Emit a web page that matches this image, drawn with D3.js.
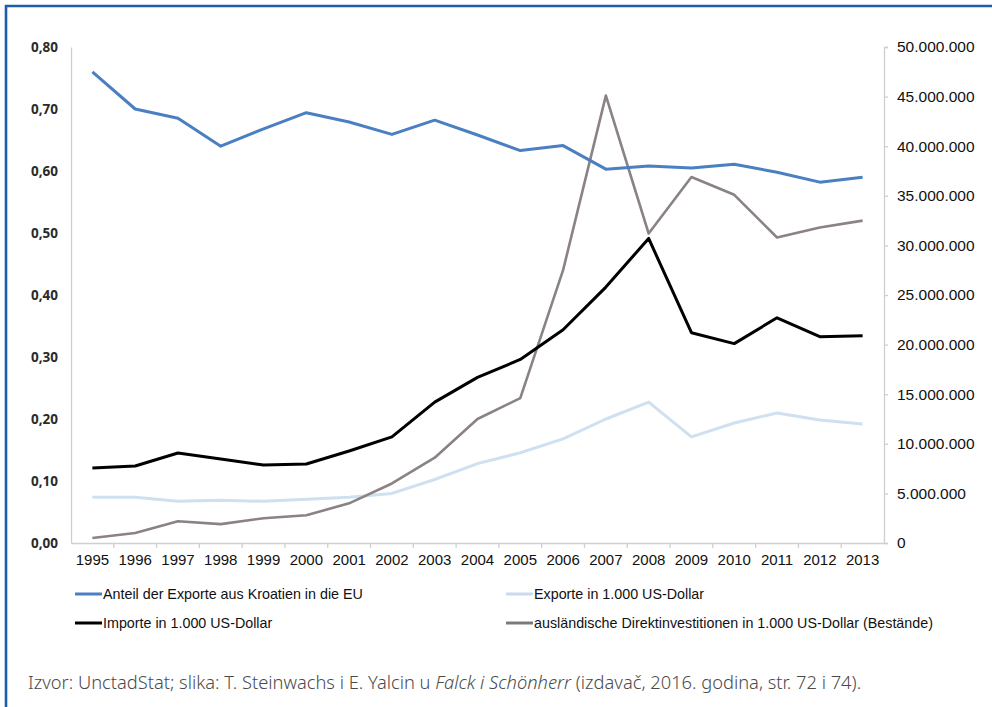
<!DOCTYPE html>
<html>
<head>
<meta charset="utf-8">
<script src="https://cdn.jsdelivr.net/npm/d3@7"></script>
<style>
  html, body { margin: 0; padding: 0; background: #fff; }
  svg { display: block; }
</style>
</head>
<body>
<svg id="chart" width="992" height="707"></svg>
<script>
const years = ["1995","1996","1997","1998","1999","2000","2001","2002","2003","2004","2005","2006","2007","2008","2009","2010","2011","2012","2013"];
const shareEU = [0.760,0.700,0.685,0.640,0.668,0.694,0.679,0.659,0.682,0.658,0.633,0.641,0.603,0.608,0.605,0.611,0.598,0.582,0.590];
const exportsUSD = [4.6,4.6,4.2,4.3,4.2,4.4,4.6,5.0,6.4,8.0,9.1,10.5,12.5,14.2,10.7,12.1,13.1,12.4,12.0];
const importsUSD = [7.56,7.76,9.07,8.47,7.86,7.96,9.27,10.7,14.2,16.7,18.5,21.5,25.8,30.7,21.2,20.1,22.7,20.8,20.9];
const fdiUSD = [0.5,1.0,2.2,1.9,2.5,2.8,4.0,6.0,8.6,12.5,14.6,27.5,45.1,31.2,36.9,35.1,30.8,31.8,32.5];
const leftTicks = [0,0.1,0.2,0.3,0.4,0.5,0.6,0.7,0.8];
const rightTicks = [0,5,10,15,20,25,30,35,40,45,50];
const legendLabels = ["Anteil der Exporte aus Kroatien in die EU","Exporte in 1.000 US-Dollar","Importe in 1.000 US-Dollar","ausländische Direktinvestitionen in 1.000 US-Dollar (Bestände)"];

(function(){
const svg = d3.select("#chart");
const mLeft = 71, mRight = 884, mTop = 47, mBottom = 543;

// frame
svg.append("path").attr("d", `M6,707 L6,6 L992,6`).attr("fill","none")
  .attr("stroke","#1b5ea9").attr("stroke-width",2.6);

const x = d3.scaleBand().domain(years).range([mLeft, mRight]);
const yL = d3.scaleLinear().domain([0,0.8]).range([mBottom, mTop]);
const yR = d3.scaleLinear().domain([0,50]).range([mBottom, mTop]);

const axisColor = "#cfcfcf";

// left axis
const gl = svg.append("g").attr("transform",`translate(${mLeft},0)`)
  .call(d3.axisLeft(yL).tickValues(leftTicks).tickSize(0).tickPadding(13)
    .tickFormat(d => d3.format(".2f")(d).replace(".", ",")));
gl.select(".domain").attr("stroke", axisColor).attr("stroke-width",1.3);
gl.selectAll("text").attr("font-family","'Open Sans', sans-serif").attr("font-weight","700")
  .attr("font-size","13.5px").attr("fill","#2a2a2a");

// right axis
const gr = svg.append("g").attr("transform",`translate(${mRight},0)`)
  .call(d3.axisRight(yR).tickValues(rightTicks).tickSize(4).tickPadding(9)
    .tickFormat(d => d === 0 ? "0" : (d*1e6).toLocaleString("de-DE")));
gr.select(".domain").attr("stroke", axisColor).attr("stroke-width",1.3);
gr.selectAll("line").attr("stroke", axisColor).attr("stroke-width",1.3);
gr.selectAll("text").attr("font-family","'Liberation Sans', Arial, sans-serif")
  .attr("font-size","15.5px").attr("fill","#111");

// x axis
const gx = svg.append("g").attr("transform",`translate(0,${mBottom})`)
  .call(d3.axisBottom(x).tickSize(0).tickPadding(11));
gx.select(".domain").attr("stroke", axisColor).attr("stroke-width",1.3);
gx.selectAll("text").attr("font-family","'Liberation Sans', Arial, sans-serif")
  .attr("font-size","15px").attr("fill","#111");
svg.append("g").selectAll("line").data(years.slice(1)).join("line")
  .attr("x1", d => x(d)).attr("x2", d => x(d))
  .attr("y1", mBottom).attr("y2", mBottom + 5)
  .attr("stroke", axisColor).attr("stroke-width",1.3);

const cx = d => x(d) + x.bandwidth()/2;
const lineL = d3.line().x((d,i) => cx(years[i])).y(d => yL(d));
const lineR = d3.line().x((d,i) => cx(years[i])).y(d => yR(d));

const series = [
  {vals: exportsUSD, gen: lineR, color: "#cfe0f1", w: 3},
  {vals: fdiUSD, gen: lineR, color: "#8a8283", w: 2.6},
  {vals: importsUSD, gen: lineR, color: "#000000", w: 3},
  {vals: shareEU, gen: lineL, color: "#4a7fc1", w: 3},
];
series.forEach(s => {
  svg.append("path").datum(s.vals).attr("d", s.gen).attr("fill","none")
    .attr("stroke", s.color).attr("stroke-width", s.w)
    .attr("stroke-linejoin","round");
});

// legend
const legColors = ["#4a7fc1","#c8dbef","#000000","#7a7a7e"];
const legPos = [[75,594],[506,594],[75,623],[506,623]];
legendLabels.forEach((lab,i) => {
  const [lx,ly] = legPos[i];
  svg.append("line").attr("x1",lx).attr("x2",lx+27).attr("y1",ly).attr("y2",ly)
    .attr("stroke",legColors[i]).attr("stroke-width",3);
  svg.append("text").attr("x",lx+28).attr("y",ly+5)
    .attr("font-family","'Liberation Sans', Arial, sans-serif").attr("font-size","14.3px")
    .attr("fill","#111").text(lab);
});

// caption
const cap = svg.append("text").attr("x",28).attr("y",689)
  .attr("font-family","'Noto Sans', sans-serif").attr("font-weight","300")
  .attr("font-size","18.3px").attr("fill","#4a4a4a");
cap.append("tspan").text("Izvor: UnctadStat; slika: T. Steinwachs i E. Yalcin u ");
cap.append("tspan").attr("font-style","italic").text("Falck i Schönherr");
cap.append("tspan").text(" (izdavač, 2016. godina, str. 72 i 74).");
})();
</script>
</body>
</html>
